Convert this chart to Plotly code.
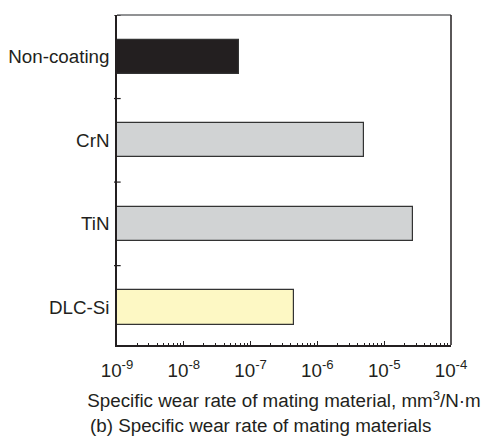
import plotly.graph_objects as go

# Specific wear rate of the mating material for each coating (mm^3/N·m)
materials = ["Non-coating", "CrN", "TiN", "DLC-Si"]
wear_rates = [6.5e-8, 5.0e-6, 2.7e-5, 4.4e-7]
bar_colors = ["#231f20", "#d1d3d4", "#d1d3d4", "#fdf8c4"]

tick_vals = [1e-9, 1e-8, 1e-7, 1e-6, 1e-5, 1e-4]
tick_text = ["10<sup>-9</sup>", "10<sup>-8</sup>", "10<sup>-7</sup>",
             "10<sup>-6</sup>", "10<sup>-5</sup>", "10<sup>-4</sup>"]

FONT = "Liberation Sans, Arial, Helvetica, sans-serif"
FS = 18.8

fig = go.Figure(go.Bar(
    x=wear_rates,
    y=materials,
    orientation="h",
    width=0.41,
    marker=dict(color=bar_colors, line=dict(color="#333333", width=1.2)),
    base=1e-9,
))

fig.update_layout(
    width=486, height=444,
    margin=dict(l=117, r=35, t=15, b=99),
    paper_bgcolor="white", plot_bgcolor="white",
    font=dict(family=FONT, size=FS, color="#231f20"),
    showlegend=False,
    bargap=0,
)

fig.update_xaxes(
    type="log", range=[-9, -4], automargin=False,
    tickvals=tick_vals, ticktext=tick_text,
    ticks="inside", ticklen=4, tickcolor="#231f20", tickwidth=1,
    minor=dict(ticks="inside", ticklen=2, tickcolor="#231f20",
               dtick="D1", showgrid=False),
    showgrid=False, zeroline=False,
    showline=True, linecolor="#231f20", linewidth=1.5,
    tickfont=dict(size=FS), ticklabelstandoff=8,
    title=dict(text="Specific wear rate of mating material, mm<sup>3</sup>/N\u00b7m",
               font=dict(size=FS), standoff=14),
)

fig.update_yaxes(
    type="category", categoryarray=materials, automargin=False,
    range=[len(materials) - 0.55, -0.5],
    ticks="", showgrid=False, zeroline=False,
    showline=True, linecolor="#231f20", linewidth=1.5,
    tickfont=dict(size=FS), ticklabelstandoff=2,
)

# Frame: light top edge, dark right edge
fig.add_shape(type="line", xref="paper", yref="paper", x0=0, x1=1, y0=1, y1=1,
              line=dict(color="#6d6e71", width=1.5))
fig.add_shape(type="line", xref="paper", yref="paper", x0=1, x1=1, y0=0, y1=1,
              line=dict(color="#231f20", width=1.5))

# Crossing tick marks on the category boundaries of the vertical axis
for i in range(len(materials)):
    b = i - 0.5
    fig.add_shape(type="line", xref="paper", yref="y",
                  x0=-0.009, x1=0.011, y0=b, y1=b,
                  line=dict(color="#231f20", width=1.2))

fig.add_annotation(
    text="(b) Specific wear rate of mating materials",
    xref="paper", yref="paper", x=-0.087, y=-0.245,
    xanchor="left", yanchor="middle", showarrow=False,
    font=dict(size=FS),
)

fig.write_html("out.html")
